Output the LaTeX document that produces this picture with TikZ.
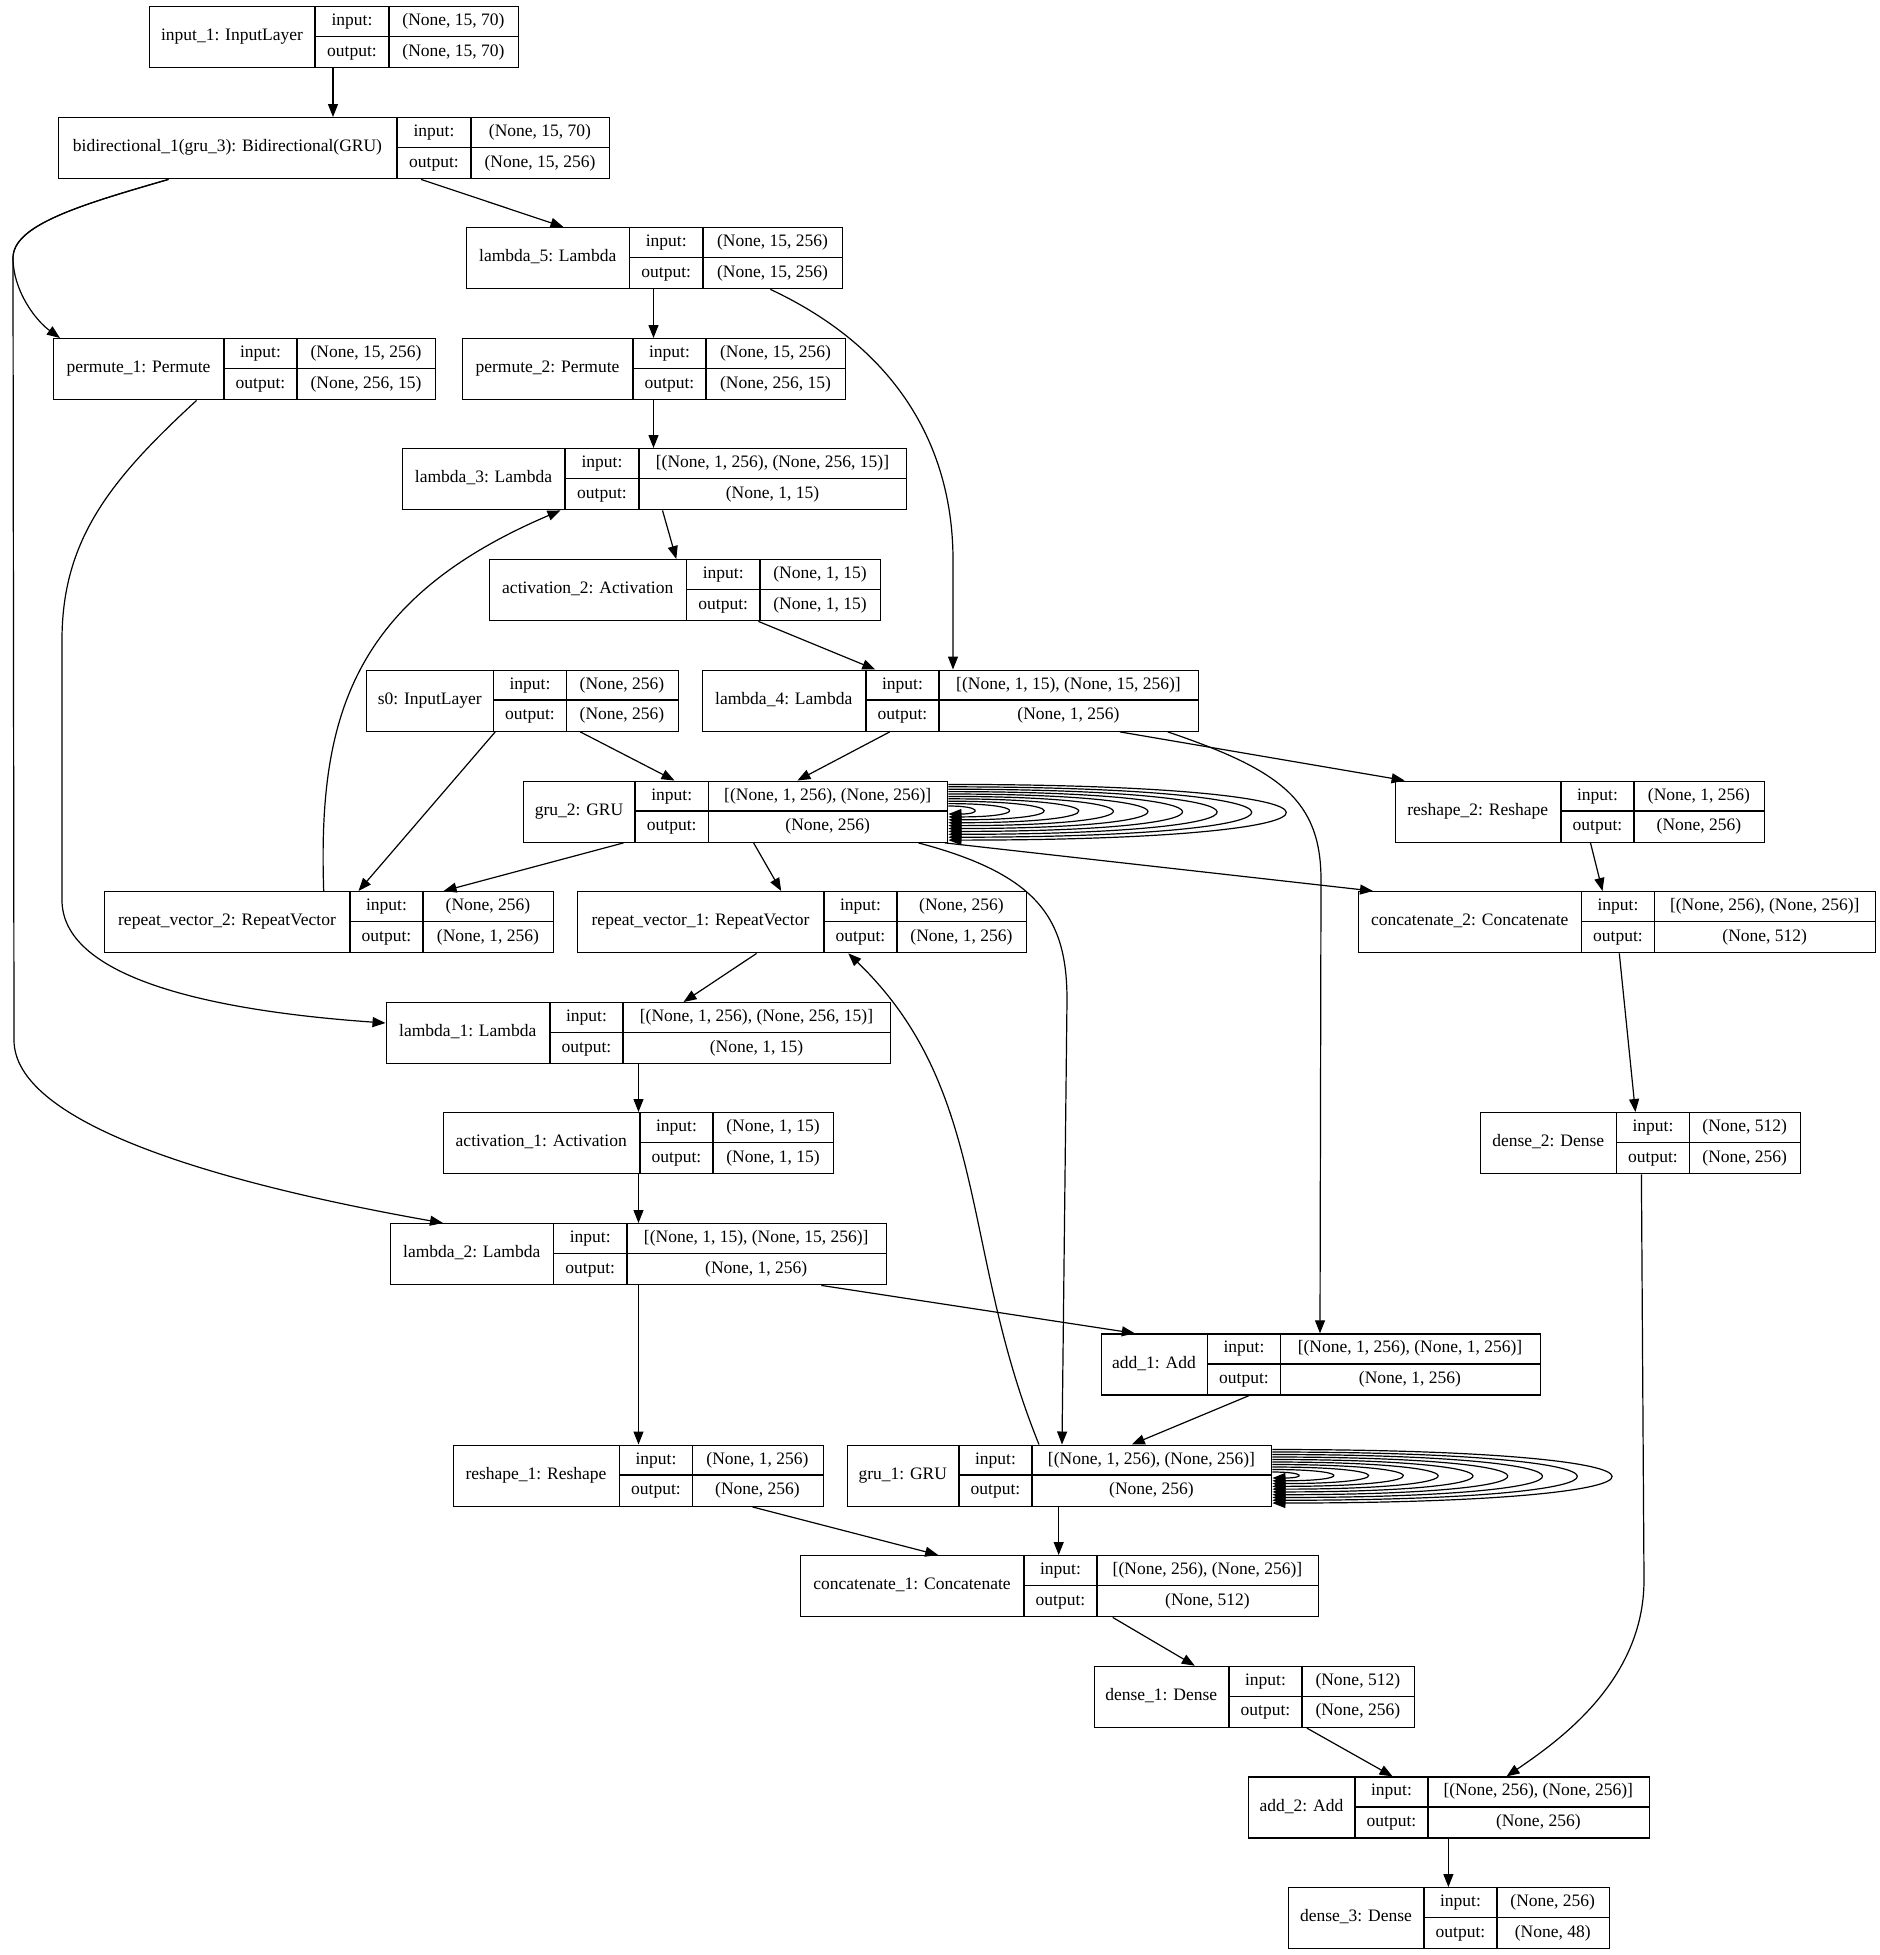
\documentclass[tikz,border=0pt]{standalone}
\usepackage{fontspec}
\setmainfont{Liberation Serif}
\usetikzlibrary{arrows.meta,calc}
\tikzset{
  kbox/.style={draw, line width=1.4pt, inner sep=0pt, rectangle},
  kline/.style={line width=1.4pt},
  ktext/.style={font=\fontsize{17.5}{21}\selectfont, inner sep=0pt, text height=12.5pt, text depth=4pt},
  edge/.style={line width=1.2pt, -{Triangle[length=13pt,width=10pt]}},
}
\newcommand{\klayer}[9]{%
  \pgfmathsetmacro{\kwid}{#4-#2}%
  \node[kbox, minimum width=\kwid pt, minimum height=61pt, anchor=north west] (#1) at (#2,#3) {};
  \draw[kline] (#5,#3) -- (#5,#3+61) (#6,#3) -- (#6,#3+61) (#5,#3+30.5) -- (#4,#3+30.5);
  \node[ktext] (#1-name) at ({(#2+#5)/2},{#3+30.5}) {#7};
  \node[ktext] (#1-inl) at ({(#5+#6)/2},{#3+15.25}) {input:};
  \node[ktext] (#1-outl) at ({(#5+#6)/2},{#3+45.75}) {output:};
  \node[ktext] (#1-in) at ({(#6+#4)/2},{#3+15.25}) {#8};
  \node[ktext] (#1-out) at ({(#6+#4)/2},{#3+45.75}) {#9};
}
\begin{document}
\begin{tikzpicture}[x=1pt,y=-1pt]
\fill[white] (0,0) rectangle (1880,1955);
\useasboundingbox (0,0) rectangle (1880,1955);

\klayer{inp}{149}{6}{518}{315}{389}{input\_1: InputLayer}{(None, 15, 70)}{(None, 15, 70)}
\klayer{bid}{58}{117}{609}{397}{471}{bidirectional\_1(gru\_3): Bidirectional(GRU)}{(None, 15, 70)}{(None, 15, 256)}
\klayer{lam5}{466}{227}{842}{629.5}{703}{lambda\_5: Lambda}{(None, 15, 256)}{(None, 15, 256)}
\klayer{perm1}{53}{338}{435}{224}{297}{permute\_1: Permute}{(None, 15, 256)}{(None, 256, 15)}
\klayer{perm2}{462}{338}{845}{633}{706}{permute\_2: Permute}{(None, 15, 256)}{(None, 256, 15)}
\klayer{lam3}{402}{448}{906}{565}{639}{lambda\_3: Lambda}{[(None, 1, 256), (None, 256, 15)]}{(None, 1, 15)}
\klayer{act2}{489}{559}{880}{686.5}{760}{activation\_2: Activation}{(None, 1, 15)}{(None, 1, 15)}
\klayer{s0}{366}{669.5}{677.5}{493.5}{566.5}{s0: InputLayer}{(None, 256)}{(None, 256)}
\klayer{lam4}{701.5}{669.5}{1198}{866}{939}{lambda\_4: Lambda}{[(None, 1, 15), (None, 15, 256)]}{(None, 1, 256)}
\klayer{gru2}{523}{780.5}{947}{635}{708.5}{gru\_2: GRU}{[(None, 1, 256), (None, 256)]}{(None, 256)}
\klayer{resh2}{1394.5}{780.5}{1764}{1561}{1634}{reshape\_2: Reshape}{(None, 1, 256)}{(None, 256)}
\klayer{rv2}{104}{891}{553}{350}{423}{repeat\_vector\_2: RepeatVector}{(None, 256)}{(None, 1, 256)}
\klayer{rv1}{577}{891}{1026}{824}{897}{repeat\_vector\_1: RepeatVector}{(None, 256)}{(None, 1, 256)}
\klayer{conc2}{1358}{891}{1875}{1581.5}{1654.5}{concatenate\_2: Concatenate}{[(None, 256), (None, 256)]}{(None, 512)}
\klayer{lam1}{385.5}{1002}{890}{550}{623}{lambda\_1: Lambda}{[(None, 1, 256), (None, 256, 15)]}{(None, 1, 15)}
\klayer{act1}{442.5}{1112}{833}{640}{713}{activation\_1: Activation}{(None, 1, 15)}{(None, 1, 15)}
\klayer{dense2}{1480}{1112}{1800}{1616.5}{1689.5}{dense\_2: Dense}{(None, 512)}{(None, 256)}
\klayer{lam2}{390}{1223}{885.5}{553.5}{627}{lambda\_2: Lambda}{[(None, 1, 15), (None, 15, 256)]}{(None, 1, 256)}
\klayer{add1}{1100.5}{1333.3}{1539.5}{1207.5}{1280.5}{add\_1: Add}{[(None, 1, 256), (None, 1, 256)]}{(None, 1, 256)}
\klayer{resh1}{452.5}{1444.5}{822.5}{619.5}{692.5}{reshape\_1: Reshape}{(None, 1, 256)}{(None, 256)}
\klayer{gru1}{846.5}{1444.5}{1271}{959}{1032}{gru\_1: GRU}{[(None, 1, 256), (None, 256)]}{(None, 256)}
\klayer{conc1}{800}{1555}{1318}{1024}{1097}{concatenate\_1: Concatenate}{[(None, 256), (None, 256)]}{(None, 512)}
\klayer{dense1}{1093.5}{1665.7}{1413.6}{1229}{1302}{dense\_1: Dense}{(None, 512)}{(None, 256)}
\klayer{add2}{1248}{1776.4}{1648.6}{1355}{1428}{add\_2: Add}{[(None, 256), (None, 256)]}{(None, 256)}
\klayer{dense3}{1288}{1887}{1608.5}{1424}{1497}{dense\_3: Dense}{(None, 256)}{(None, 48)}

% edges
\draw[edge] (inp.south -| 333,0) -- (bid.north -| 333,0);
\draw[edge] (bid.south -| 421,0) -- (lam5.north -| 563.5,0);
\draw[edge] (bid.south -| 168.5,0) .. controls (80,205) and (13,225) .. (13,258) .. controls (13,290) and (35,320) .. (perm1.north -| 60,0);
\draw[edge] (bid.south -| 168.5,0) .. controls (80,205) and (13,225) .. (13,258) -- (14,1040) .. controls (14,1120) and (200,1180) .. (lam2.north -| 443,0);
\draw[edge] (perm1.south -| 196.6,0) .. controls (110,480) and (62,540) .. (62,640) -- (62,900) .. controls (62,975) and (200,1010) .. (lam1.west |- 0,1023);
\draw[edge] (lam5.south -| 653.5,0) -- (perm2.north -| 653.5,0);
\draw[edge] (lam5.south -| 770.4,0) .. controls (900,350) and (953,450) .. (953,560) -- (lam4.north -| 953,0);
\draw[edge] (perm2.south -| 653.5,0) -- (lam3.north -| 653.5,0);
\draw[edge] (lam3.south -| 662.5,0) -- (act2.north -| 676.3,0);
\draw[edge] (act2.south -| 758.4,0) -- (lam4.north -| 875.3,0);
\draw[edge] (rv2.north -| 323.7,0) .. controls (318,720) and (350,600) .. (lam3.south -| 560.5,0);
\draw[edge] (s0.south -| 580.3,0) -- (gru2.north -| 674.5,0);
\draw[edge] (s0.south -| 495.2,0) -- (rv2.north -| 358.5,0);
\draw[edge] (lam4.south -| 889.7,0) -- (gru2.north -| 797.4,0);
\draw[edge] (lam4.south -| 1120,0) -- (resh2.north -| 1404.6,0);
\draw[edge] (lam4.south -| 1167.8,0) .. controls (1280,770) and (1321,800) .. (1321,880) -- (add1.north -| 1320,0);
\draw[edge] (gru2.south -| 623.5,0) -- (rv2.north -| 443.6,0);
\draw[edge] (gru2.south -| 753.6,0) -- (rv1.north -| 781.2,0);
\draw[edge] (gru2.south -| 945,0) -- (conc2.north -| 1373,0);
\draw[edge] (gru2.south -| 918.4,0) .. controls (1040,875) and (1067,920) .. (1067,1000) -- (gru1.north -| 1062,0);
\draw[edge] (rv1.south -| 756.6,0) -- (lam1.north -| 683.5,0);
\draw[edge] (gru1.north -| 1039,0) .. controls (960,1250) and (990,1090) .. (rv1.south -| 848.3,0);
\draw[edge] (lam1.south -| 638.5,0) -- (act1.north -| 638.5,0);
\draw[edge] (act1.south -| 638.5,0) -- (lam2.north -| 638.5,0);
\draw[edge] (lam2.south -| 638.5,0) -- (resh1.north -| 638.5,0);
\draw[edge] (lam2.south -| 821.3,0) -- (add1.north -| 1134.8,0);
\draw[edge] (add1.south -| 1248.8,0) -- (gru1.north -| 1131.8,0);
\draw[edge] (resh1.south -| 752.4,0) -- (conc1.north -| 938.2,0);
\draw[edge] (gru1.south -| 1058.7,0) -- (conc1.north -| 1058.7,0);
\draw[edge] (conc1.south -| 1112.7,0) -- (dense1.north -| 1194.8,0);
\draw[edge] (dense1.south -| 1306.9,0) -- (add2.north -| 1392.6,0);
\draw[edge] (dense2.south -| 1641.4,0) -- (1644,1580) .. controls (1644,1680) and (1560,1740) .. (add2.north -| 1506.5,0);
\draw[edge] (resh2.south -| 1590.5,0) -- (conc2.north -| 1602.5,0);
\draw[edge] (conc2.south -| 1619.3,0) -- (dense2.north -| 1635.4,0);
\draw[edge] (add2.south -| 1448.4,0) -- (dense3.north -| 1448.4,0);

% self loops
\foreach \i in {0,...,9} {
  \pgfmathsetmacro{\kw}{1.333*(25+34.6*\i)}
  \pgfmathsetmacro{\kt}{806-2.4*\i}
  \pgfmathsetmacro{\kb}{814+2.9*\i}
  \draw[edge] (gru2.east |- 0,\kt) .. controls ($(gru2.east |- 0,\kt)+(\kw,0)$) and ($(gru2.east |- 0,\kb)+(\kw,0)$) .. (gru2.east |- 0,\kb);
}
\foreach \i in {0,...,9} {
  \pgfmathsetmacro{\kw}{1.333*(25+34.8*\i)}
  \pgfmathsetmacro{\kt}{1472-2.5*\i}
  \pgfmathsetmacro{\kb}{1478+2.78*\i}
  \draw[edge] (gru1.east |- 0,\kt) .. controls ($(gru1.east |- 0,\kt)+(\kw,0)$) and ($(gru1.east |- 0,\kb)+(\kw,0)$) .. (gru1.east |- 0,\kb);
}
\end{tikzpicture}
\end{document}
